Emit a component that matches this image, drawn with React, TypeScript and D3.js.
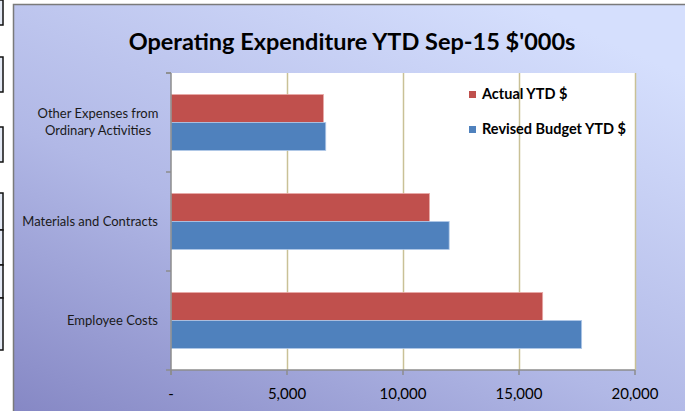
import React, {useEffect, useRef} from 'react';
import * as d3 from "d3";

const categories = ["Employee Costs", "Materials and Contracts", "Other Expenses from Ordinary Activities"];
const seriesNames = ["Actual YTD $", "Revised Budget YTD $"];
const actualYTD = [16020, 11140, 6570];
const revisedBudgetYTD = [17700, 11990, 6670];
const tickValues = [0, 5000, 10000, 15000, 20000];
const seriesColors = ["#c0504d", "#4f81bd"];

// label lines for wrapped categories
const categoryLines: {[k: string]: string[]} = {
    "Other Expenses from Ordinary Activities": ["Other Expenses from", "Ordinary Activities"]
};

function App() {
    const ref = useRef<SVGSVGElement>(null);

    useEffect(() => {
        drawChart();
    }, []);

    function drawChart() {
        const width = 685, height = 411;
        const svg = d3.select(ref.current);
        svg.selectAll("*").remove();

        const font = '"Lato", "Open Sans", sans-serif';

        // bits of the spreadsheet cells poking in on the left
        const cells = [[0, 25], [57, 92], [127, 162], [193, 230], [230, 265], [265, 298], [298, 350]];
        svg.selectAll(".cell")
            .data(cells)
            .enter()
            .append("rect")
            .attr("x", -3)
            .attr("y", d => d[0])
            .attr("width", 6)
            .attr("height", d => d[1] - d[0])
            .attr("fill", "#e4eaf6")
            .attr("stroke", "#111")
            .attr("stroke-width", 1.5);

        const defs = svg.append("defs");
        const grad = defs.append("linearGradient")
            .attr("id", "bg")
            .attr("x1", 0).attr("y1", 1)
            .attr("x2", 0.75).attr("y2", 0);
        grad.append("stop").attr("offset", "0%").attr("stop-color", "#8587c4");
        grad.append("stop").attr("offset", "45%").attr("stop-color", "#b1b8e6");
        grad.append("stop").attr("offset", "100%").attr("stop-color", "#d5dffd");

        svg.append("rect")
            .attr("x", 13.5)
            .attr("y", 4.5)
            .attr("width", width)
            .attr("height", height)
            .attr("fill", "url(#bg)")
            .attr("stroke", "#7a7a7a")
            .attr("stroke-width", 1.5);

        svg.append("text")
            .attr("x", 352)
            .attr("y", 50)
            .attr("text-anchor", "middle")
            .style("font-family", font)
            .style("font-weight", "bold")
            .style("font-size", "23.5px")
            .attr("fill", "#000")
            .text("Operating Expenditure YTD Sep-15 $'000s");

        const left = 171, right = 635, top = 73, bottom = 370;

        const x = d3.scaleLinear()
            .domain([0, 20000])
            .range([left, right]);

        const y = d3.scaleBand()
            .domain(categories)
            .range([bottom, top])
            .paddingInner(0)
            .paddingOuter(0);

        const inner = d3.scaleBand()
            .domain(seriesNames)
            .range([0, y.bandwidth()])
            .paddingInner(0)
            .paddingOuter(0.77);

        svg.append("rect")
            .attr("x", left)
            .attr("y", top)
            .attr("width", right - left)
            .attr("height", bottom - top)
            .attr("fill", "#fff");

        // grid lines
        svg.selectAll(".grid")
            .data(tickValues.slice(1))
            .enter()
            .append("line")
            .attr("x1", d => x(d) + 0.5)
            .attr("x2", d => x(d) + 0.5)
            .attr("y1", top)
            .attr("y2", bottom)
            .attr("stroke", "#c9c196")
            .attr("stroke-width", 1.5);

        const rows = categories.map((c, i) => ({name: c, values: [actualYTD[i], revisedBudgetYTD[i]]}));

        const groups = svg.selectAll(".group")
            .data(rows)
            .enter()
            .append("g")
            .attr("transform", d => "translate(0," + y(d.name) + ")");

        groups.selectAll("rect")
            .data(d => d.values.map((v, j) => ({v, s: seriesNames[j], j})))
            .enter()
            .append("rect")
            .attr("x", x(0))
            .attr("y", d => inner(d.s) as number)
            .attr("width", d => x(d.v) - x(0))
            .attr("height", inner.bandwidth())
            .attr("fill", d => seriesColors[d.j])
            .attr("stroke", d => d.j === 0 ? "#e8a8a6" : "#b0c8e8")
            .attr("stroke-width", 0.8);

        // axes
        const axisColor = "#8c8c8c";
        svg.append("line")
            .attr("x1", left).attr("x2", left)
            .attr("y1", top).attr("y2", bottom + 5)
            .attr("stroke", axisColor).attr("stroke-width", 1.5);
        svg.append("line")
            .attr("x1", left - 5).attr("x2", right)
            .attr("y1", bottom).attr("y2", bottom)
            .attr("stroke", axisColor).attr("stroke-width", 1.5);

        const yTicks = [top, ...categories.map(c => y(c) as number)];
        svg.selectAll(".ytick")
            .data(yTicks)
            .enter()
            .append("line")
            .attr("x1", left - 5).attr("x2", left)
            .attr("y1", d => d).attr("y2", d => d)
            .attr("stroke", axisColor).attr("stroke-width", 1.5);

        svg.selectAll(".xtick")
            .data(tickValues)
            .enter()
            .append("line")
            .attr("x1", d => x(d)).attr("x2", d => x(d))
            .attr("y1", bottom).attr("y2", bottom + 5)
            .attr("stroke", axisColor).attr("stroke-width", 1.5);

        svg.selectAll(".xlabel")
            .data(tickValues)
            .enter()
            .append("text")
            .attr("x", d => x(d))
            .attr("y", 399)
            .attr("text-anchor", "middle")
            .style("font-family", font)
            .style("font-size", "15px")
            .attr("fill", "#000")
            .text(d => d === 0 ? "-" : d3.format(",")(d));

        // category labels
        categories.forEach(c => {
            const lines = categoryLines[c] || [c];
            const cy = (y(c) as number) + y.bandwidth() / 2;
            const t = svg.append("text")
                .style("font-family", font)
                .style("font-size", "13px")
                .attr("fill", "#1a1a1a");
            if (lines.length === 1) {
                t.attr("x", 158).attr("y", cy + 4.5).attr("text-anchor", "end").text(c);
            } else {
                t.attr("text-anchor", "middle");
                lines.forEach((l, k) => {
                    t.append("tspan")
                        .attr("x", 98)
                        .attr("y", cy - 4.5 + k * 17)
                        .text(l);
                });
            }
        });

        // legend
        seriesNames.forEach((s, i) => {
            const ly = 94 + i * 35;
            svg.append("rect")
                .attr("x", 469)
                .attr("y", ly - 3)
                .attr("width", 7)
                .attr("height", 7)
                .attr("fill", seriesColors[i]);
            svg.append("text")
                .attr("x", 482)
                .attr("y", ly + 5)
                .style("font-family", font)
                .style("font-weight", "bold")
                .style("font-size", "14.5px")
                .attr("fill", "#000")
                .text(s);
        });
    }

    return (
        <div style={{position: "fixed", left: 0, top: 0}}>
            <svg ref={ref} width={685} height={411} style={{display: "block"}}></svg>
        </div>
    );
}

export default App;
